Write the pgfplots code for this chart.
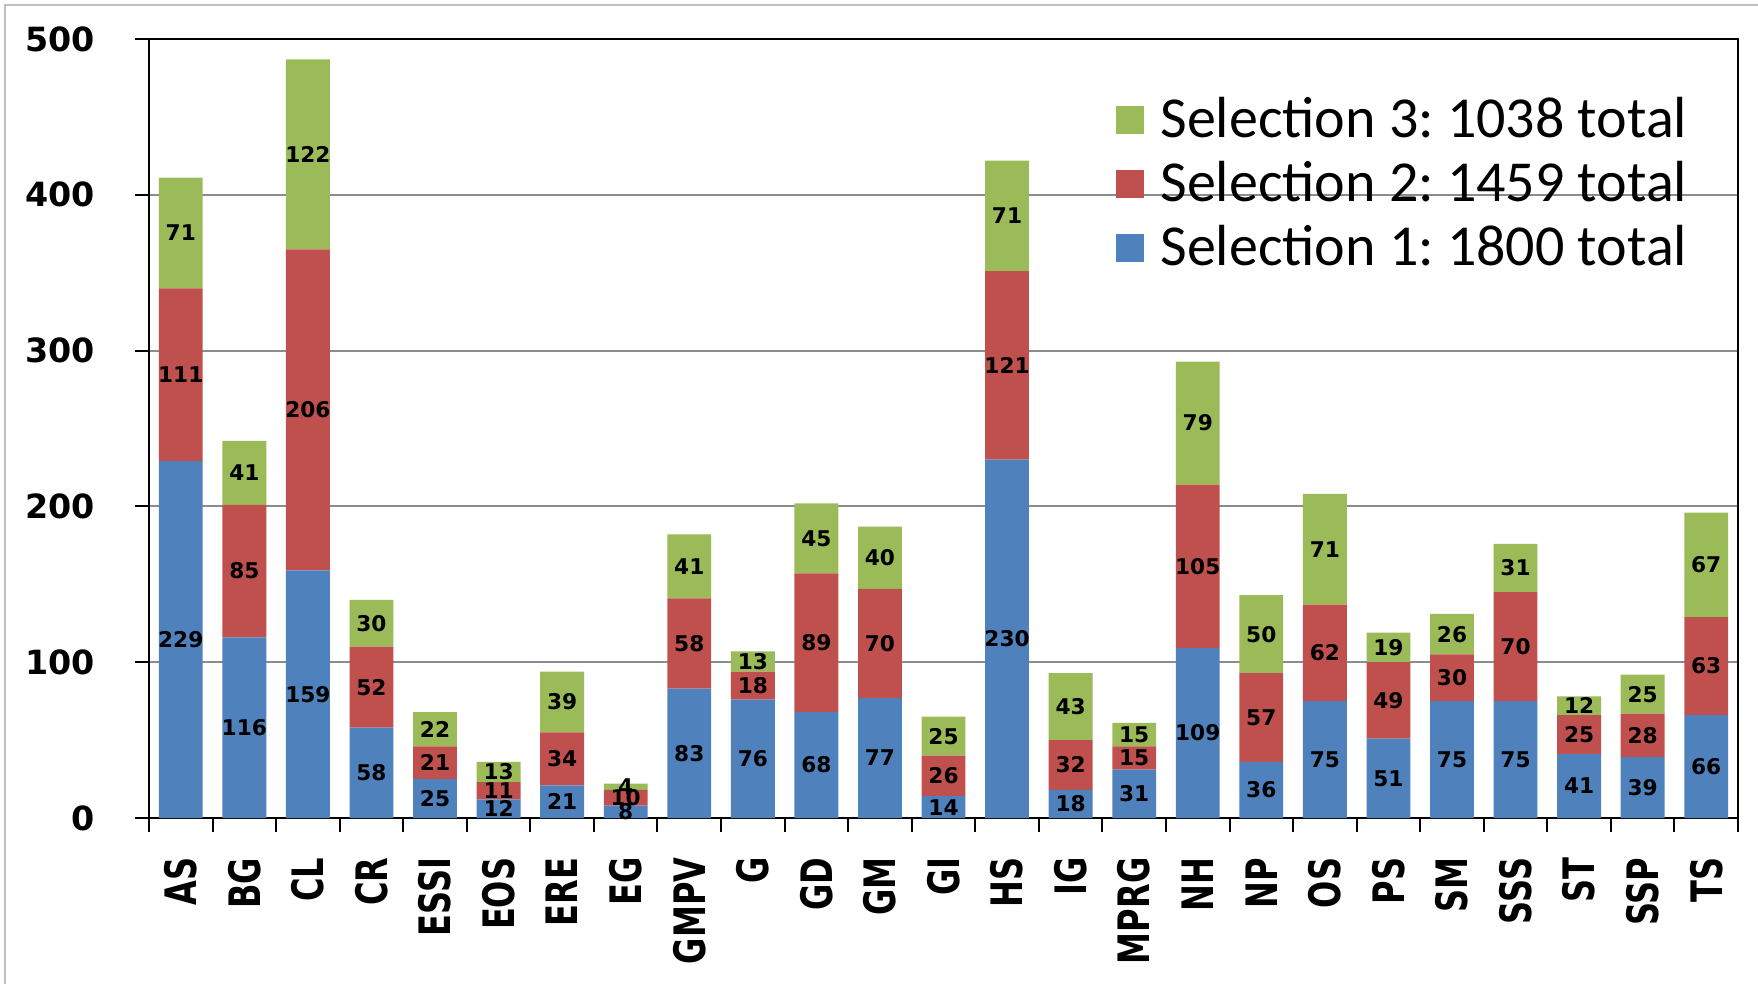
\documentclass[border=0pt]{standalone}
\usepackage{pgfplots}
\pgfplotsset{compat=1.18}
\usepackage{pgfplotstable}
\usepackage{fontspec}
\setmainfont{DejaVu Sans}
\newfontfamily\legfont{Carlito}
\newfontfamily\narrowfont[FakeStretch=0.74]{DejaVu Sans}
\frenchspacing

\definecolor{sel1}{HTML}{4F81BD}
\definecolor{sel2}{HTML}{C0504D}
\definecolor{sel3}{HTML}{9BBB59}

% counts per category for the three selections
\pgfplotstableread{
x  label s1  s2  s3
0  AS    229 111 71
1  BG    116 85  41
2  CL    159 206 122
3  CR    58  52  30
4  ESSI  25  21  22
5  EOS   12  11  13
6  ERE   21  34  39
7  EG    8   10  4
8  GMPV  83  58  41
9  G     76  18  13
10 GD    68  89  45
11 GM    77  70  40
12 GI    14  26  25
13 HS    230 121 71
14 IG    18  32  43
15 MPRG  31  15  15
16 NH    109 105 79
17 NP    36  57  50
18 OS    75  62  71
19 PS    51  49  19
20 SM    75  30  26
21 SSS   75  70  31
22 ST    41  25  12
23 SSP   39  28  25
24 TS    66  63  67
}\counts

\begin{document}
\begin{tikzpicture}
\begin{axis}[
  scale only axis, width=476.7pt, height=233.7pt,
  ybar stacked, bar width=0.69,
  xmin=-0.5, xmax=24.5, ymin=0, ymax=500,
  xtick={-0.5,0.5,...,24.5},
  x tick label as interval,
  xticklabels from table={\counts}{label},
  ytick={0,100,...,500},
  ymajorgrids, grid style={black!45, line width=0.6pt},
  axis line style={black, line width=0.6pt},
  tick align=outside, xtick pos=bottom, ytick pos=left,
  major tick length=4.2pt,
  tick style={black, line width=0.6pt},
  xticklabel style={yshift=-7.5pt, rotate=90, anchor=east, inner sep=0pt,
    font=\narrowfont\bfseries\fontsize{13}{13}\selectfont},
  yticklabel style={xshift=-8.5pt, font=\bfseries\fontsize{10}{10}\selectfont},
  /pgf/number format/assume math mode=true,
  nodes near coords, point meta=rawy,
  every node near coord/.append style={font=\bfseries\fontsize{6.5}{7}\selectfont,
    black, anchor=center},
  legend image code/.code={\fill[#1] (0pt,-4.2pt) rectangle (8.4pt,4.2pt);},
  reverse legend,
  legend style={at={(rel axis cs:0.608,0.935)}, anchor=north west,
    draw=none, fill=none, inner sep=0pt, row sep=1.7pt,
    nodes={inner xsep=5pt},
    font=\legfont\fontsize{17.4}{19}\selectfont},
  legend cell align=left,
]
\addplot[fill=sel1, draw=none] table[x=x, y=s1] {\counts};
\addlegendentry{Selection 1: 1800 total}
\addplot[fill=sel2, draw=none] table[x=x, y=s2] {\counts};
\addlegendentry{Selection 2: 1459 total}
\addplot[fill=sel3, draw=none] table[x=x, y=s3] {\counts};
\addlegendentry{Selection 3: 1038 total}
\end{axis}
\draw[black!25, line width=0.8pt] (-43.2pt,-60pt)
  -- (-43.2pt,243.9pt) -- (490pt,243.9pt);
\pgfresetboundingbox
\useasboundingbox (-44.7pt,-49.5pt) rectangle (482.7pt,245.4pt);
\end{tikzpicture}
\end{document}
